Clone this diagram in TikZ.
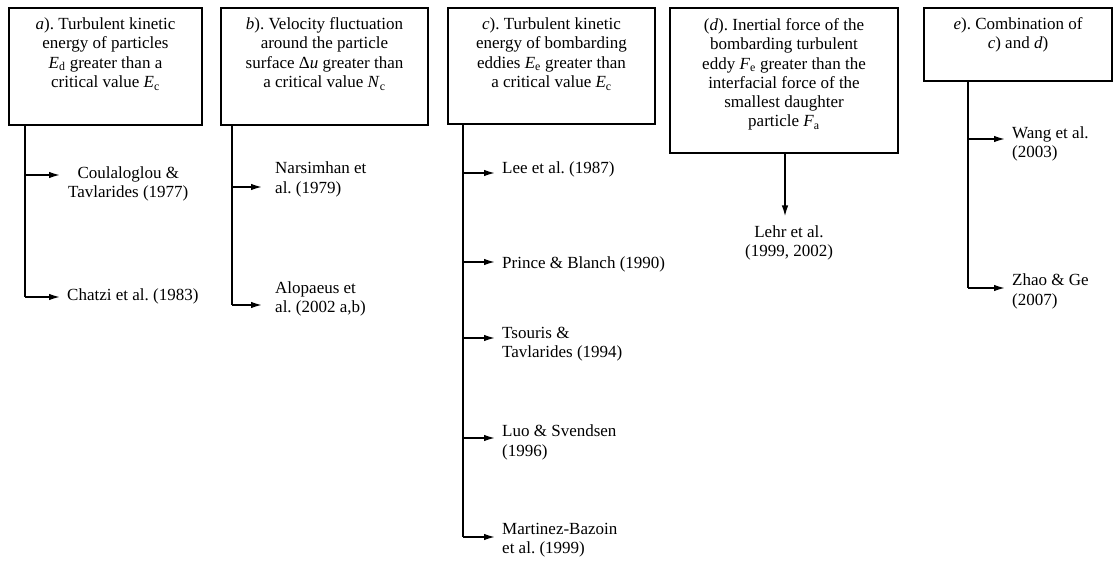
\documentclass[tikz,border=0pt]{standalone}
\usepackage{fontspec}
\setmainfont{Liberation Serif}
\usetikzlibrary{arrows.meta}
\frenchspacing
\begin{document}
\begin{tikzpicture}[x=1pt,y=-1pt,
  font=\fontsize{17}{19.3}\selectfont,
  box/.style={draw, line width=1.4pt, rectangle, inner sep=0pt},
  ttl/.style={align=center, inner sep=0pt},
  refc/.style={align=center, inner sep=0pt, anchor=west},
  refl/.style={align=left, inner sep=0pt, anchor=west},
  ln/.style={line width=1.5pt},
  arr/.style={line width=1.5pt, -{Latex[length=11pt,width=6.5pt]}}]
\useasboundingbox (0,0) rectangle (1116,561);
\fill[white] (0,0) rectangle (1116,561);

% boxes
\node[box, minimum width=193pt, minimum height=117pt] (A) at (105.5,66.5) {};
\node[box, minimum width=207pt, minimum height=117pt] (B) at (324.5,66.5) {};
\node[box, minimum width=207pt, minimum height=116pt] (C) at (551.5,66) {};
\node[box, minimum width=228pt, minimum height=145pt] (D) at (784,80.5) {};
\node[box, minimum width=188pt, minimum height=73pt] (E) at (1018,44.5) {};

% titles
\node[ttl] (tA) at (105.5,54) {\textit{a}). Turbulent kinetic\\energy of particles\\\textit{E}\textsubscript{d} greater than a\\critical value \textit{E}\textsubscript{c}};
\node[ttl] (tB) at (324.5,54) {\textit{b}). Velocity fluctuation\\around the particle\\surface Δ\textit{u} greater than\\a critical value \textit{N}\textsubscript{c}};
\node[ttl] (tC) at (551.5,54) {\textit{c}). Turbulent kinetic\\energy of bombarding\\eddies \textit{E}\textsubscript{e} greater than\\a critical value \textit{E}\textsubscript{c}};
\node[ttl] (tD) at (784,74.5) {(\textit{d}). Inertial force of the\\bombarding turbulent\\eddy \textit{F}\textsubscript{e} greater than the\\interfacial force of the\\smallest daughter\\particle \textit{F}\textsubscript{a}};
\node[ttl] (tE) at (1018,34.5) {\textit{e}). Combination of\\\textit{c}) and \textit{d})};

% references
\node[refc] (ra1) at (68,184) {Coulaloglou \&\\Tavlarides (1977)};
\node[refl] (ra2) at (67,296) {Chatzi et al. (1983)};
\node[refl] (rb1) at (275,179.5) {Narsimhan et\\al. (1979)};
\node[refl] (rb2) at (275,299) {Alopaeus et\\al. (2002 a,b)};
\node[refl] (rc1) at (502,169) {Lee et al. (1987)};
\node[refl] (rc2) at (502,264) {Prince \& Blanch (1990)};
\node[refl] (rc3) at (502,344.5) {Tsouris \&\\Tavlarides (1994)};
\node[refl] (rc4) at (502,442.5) {Luo \& Svendsen\\(1996)};
\node[refl] (rc5) at (502,540.5) {Martinez-Bazoin\\et al. (1999)};
\node[ttl] (rd1) at (789,243) {Lehr et al.\\(1999, 2002)};
\node[refl] (re1) at (1012,144) {Wang et al.\\(2003)};
\node[refl] (re2) at (1012,291.5) {Zhao \& Ge\\(2007)};

% branch points
\coordinate (ka1) at (25,175);
\coordinate (ka2) at (25,297);
\coordinate (kb1) at (232,187);
\coordinate (kb2) at (232,305);
\coordinate (kc1) at (463,173);
\coordinate (kc2) at (463,262);
\coordinate (kc3) at (463,338);
\coordinate (kc4) at (463,438);
\coordinate (kc5) at (463,537);
\coordinate (kd) at (785,0);
\coordinate (ke1) at (968,139);
\coordinate (ke2) at (968,288);

% connectors
\draw[ln] (A.south -| ka2) -- (ka2);
\draw[arr, shorten >=8pt] (ka1) -- (ka1 -| ra1.west);
\draw[arr, shorten >=7pt] (ka2) -- (ka2 -| ra2.west);

\draw[ln] (B.south -| kb2) -- (kb2);
\draw[arr, shorten >=13pt] (kb1) -- (kb1 -| rb1.west);
\draw[arr, shorten >=13pt] (kb2) -- (kb2 -| rb2.west);

\draw[ln] (C.south -| kc5) -- (kc5);
\draw[arr, shorten >=7pt] (kc1) -- (kc1 -| rc1.west);
\draw[arr, shorten >=7pt] (kc2) -- (kc2 -| rc2.west);
\draw[arr, shorten >=7pt] (kc3) -- (kc3 -| rc3.west);
\draw[arr, shorten >=7pt] (kc4) -- (kc4 -| rc4.west);
\draw[arr, shorten >=7pt] (kc5) -- (kc5 -| rc5.west);

\draw[arr, shorten >=9pt] (D.south -| kd) -- (rd1.north -| kd);

\draw[ln] (E.south -| ke2) -- (ke2);
\draw[arr, shorten >=7pt] (ke1) -- (ke1 -| re1.west);
\draw[arr, shorten >=7pt] (ke2) -- (ke2 -| re2.west);
\end{tikzpicture}
\end{document}
